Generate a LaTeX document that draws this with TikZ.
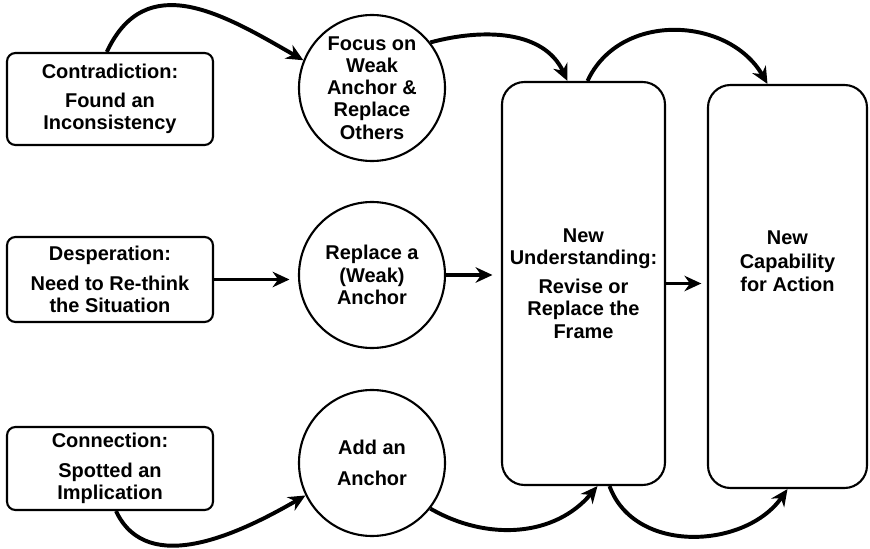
\documentclass[tikz,border=0pt]{standalone}
\usepackage{fontspec}
\setmainfont{Liberation Sans}
\usetikzlibrary{arrows.meta}

\begin{document}
\begin{tikzpicture}[font=\fontsize{14.2}{15.8}\selectfont\bfseries,
    >={Stealth[length=12pt,width=11pt]},x=1cm,y=1cm]
    \tikzset{
        causebox/.style={draw,line width=1.5pt,rounded corners=6pt,align=center,
            minimum width=5.15cm,inner sep=3pt},
        movecircle/.style={draw,line width=1.5pt,circle,align=center,
            minimum size=3.65cm,inner sep=0pt},
        framebox/.style={draw,line width=1.5pt,rounded corners=16pt,align=center,
            minimum height=10.075cm,inner sep=3pt},
        flow/.style={->,line width=2.8pt}
    }
    \useasboundingbox (0,0) rectangle (21.75,13.70);

    \node[causebox,minimum height=2.30cm] (contra) at (2.75,11.225)
        {Contradiction:\\[5pt]
         Found an\\
         Inconsistency};
    \node[causebox,minimum height=2.125cm] (desp) at (2.75,6.7125)
        {Desperation:\\[5pt]
         Need to Re-think\\
         the Situation};
    \node[causebox,minimum height=2.075cm] (conn) at (2.75,1.9875)
        {Connection:\\[5pt]
         Spotted an\\
         Implication};

    \node[movecircle] (focus) at (9.30,11.50)
        {Focus on\\Weak\\Anchor \&\\Replace\\Others};
    \node[movecircle] (repl) at (9.30,6.825)
        {Replace a\\(Weak)\\Anchor};
    \node[movecircle] (add) at (9.30,2.125)
        {Add an\\[6pt]Anchor};

    \node[framebox,minimum width=4.075cm] (nu) at (14.5875,6.6125)
        {New\\
         Understanding:\\[5pt]
         Revise or\\
         Replace the\\
         Frame};
    \node[framebox,minimum width=3.975cm,text depth=1.25cm] (nc) at (19.6875,6.5375)
        {New\\[1pt]
         Capability\\[1pt]
         for Action};

    \draw[flow,shorten >=6pt] (desp.east) -- (desp.east -| repl.west);
    \draw[flow,shorten >=6pt] (repl.east) -- (repl.east -| nu.west);
    \draw[flow,shorten >=4pt] (nu.east) -- (nu.east -| nc.west);

    \draw[flow] ([xshift=-0.08cm]contra.north) to[out=65,in=150,looseness=1.2] (focus.158);
    \draw[flow] (focus.38) to[out=15,in=115] ([xshift=-0.4cm]nu.north);
    \draw[flow] ([xshift=0.1cm]nu.north) to[out=65,in=120,looseness=1.1]
        ([xshift=-0.5cm]nc.north);

    \draw[flow] ([xshift=0.15cm]conn.south) to[out=-65,in=-150] (add.206);
    \draw[flow] (add.-38) to[out=-30,in=-130] ([xshift=0.35cm]nu.south);
    \draw[flow] ([xshift=0.65cm]nu.south) to[out=-70,in=-125,looseness=1.05]
        (nc.south);
\end{tikzpicture}
\end{document}
